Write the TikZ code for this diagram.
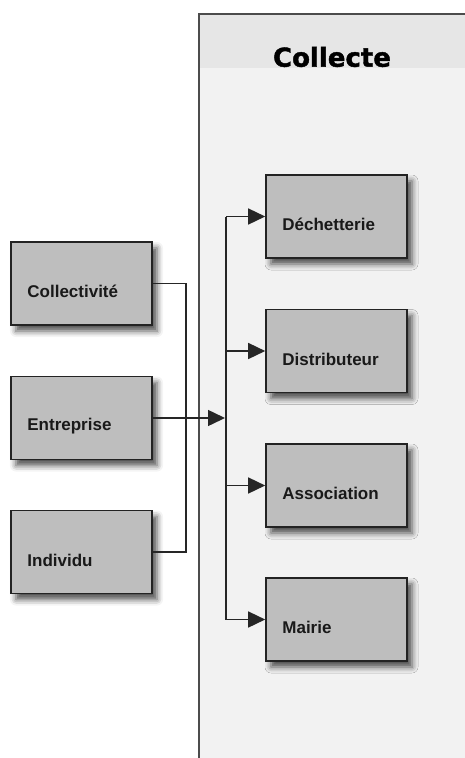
\documentclass[tikz,border=0pt]{standalone}
\usepackage{fontspec}
\setmainfont{Liberation Sans}
\newfontfamily\titlefont[BoldFeatures={FakeBold=1.6}]{DejaVu Sans}
\usetikzlibrary{arrows.meta,shadows.blur,positioning}
\definecolor{boxgray}{RGB}{190,190,190}
\definecolor{bodygray}{RGB}{242,242,242}
\definecolor{headgray}{RGB}{230,230,230}
\definecolor{edgegray}{RGB}{35,35,35}
\tikzset{
  itembox/.style={draw=edgegray, line width=1.6pt, fill=boxgray, minimum width=141pt, minimum height=83pt, inner sep=0pt,
    blur shadow={shadow xshift=5pt, shadow yshift=-6pt, shadow blur radius=6pt, shadow opacity=70}},
  itemlabel/.style={anchor=west, font=\bfseries\fontsize{17}{19}\selectfont, inner sep=0pt, text=black!90},
  conn/.style={draw=black!85, line width=1.5pt},
  arr/.style={conn, -{Triangle[length=17pt,width=16pt]}}
}
\begin{document}
\begin{tikzpicture}[x=1pt,y=-1pt]
\useasboundingbox (0,0) rectangle (464,758);
% container
\fill[bodygray] (199,14) rectangle (470,770);
\fill[headgray] (199,14) rectangle (470,68);
\draw[draw=black!70, line width=2pt] (199,770) -- (199,14) -- (470,14);
\node[font=\titlefont\bfseries\fontsize{26}{28}\selectfont, inner sep=0pt] (title) at (332,57) {Collecte};
% left boxes
\node[itembox] (coll) at (81.5,283.5) {};
\node[itembox] (ent) at (81.5,418) {};
\node[itembox] (ind) at (81.5,552) {};
\node[itemlabel] (collt) at ([xshift=17pt,yshift=-8pt]coll.west) {Collectivité};
\node[itemlabel] (entt) at ([xshift=17pt,yshift=-8pt]ent.west) {Entreprise};
\node[itemlabel] (indt) at ([xshift=17pt,yshift=-8pt]ind.west) {Individu};
% right boxes
\node[itembox] (dech) at (336.5,216.5) {};
\node[itembox] (dist) at (336.5,351) {};
\node[itembox] (asso) at (336.5,485.5) {};
\node[itembox] (mair) at (336.5,619.5) {};
\node[itemlabel] (decht) at ([xshift=17pt,yshift=-8pt]dech.west) {Déchetterie};
\node[itemlabel] (distt) at ([xshift=17pt,yshift=-8pt]dist.west) {Distributeur};
\node[itemlabel] (assot) at ([xshift=17pt,yshift=-8pt]asso.west) {Association};
\node[itemlabel] (mairt) at ([xshift=17pt,yshift=-8pt]mair.west) {Mairie};
% connectors
\coordinate (join) at (186,0);
\coordinate (bus) at (226,0);
\draw[conn] (coll.east) -- (join|-coll.east) -- (join|-ind.east) -- (ind.east);
\draw[arr] (ent.east) -- ([xshift=-1pt]bus|-ent.east);
\draw[conn] (bus|-dech.west) -- (bus|-mair.west);
\draw[arr] (bus|-dech.west) -- (dech.west);
\draw[arr] (bus|-dist.west) -- (dist.west);
\draw[arr] (bus|-asso.west) -- (asso.west);
\draw[arr] (bus|-mair.west) -- (mair.west);
\end{tikzpicture}
\end{document}
